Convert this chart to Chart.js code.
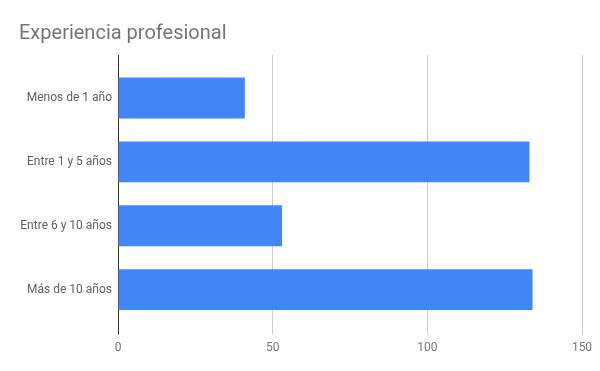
<!DOCTYPE html>
<html>
<head>
<meta charset="utf-8">
<script src="https://cdn.jsdelivr.net/npm/chart.js@4/dist/chart.umd.min.js"></script>
<style>
  html, body { margin: 0; padding: 0; background: #fff; }
  #wrap { width: 600px; height: 371px; }
</style>
</head>
<body>
<div id="wrap"><canvas id="grafico"></canvas></div>
<script>
// ===== Datos =====
const categorias = ['Menos de 1 año', 'Entre 1 y 5 años', 'Entre 6 y 10 años', 'Más de 10 años'];
const valores = [41, 133, 53, 134];
const ejeMin = 0;
const ejeMax = 150;
const ejePaso = 50;

const colorGrid = ctx => (ctx.tick && ctx.tick.value === 0 ? '#333333' : '#cccccc');

new Chart(document.getElementById('grafico').getContext('2d'), {
  type: 'bar',
  data: {
    labels: categorias,
    datasets: [{
      label: 'Experiencia profesional',
      data: valores,
      backgroundColor: '#4285f4',
      borderWidth: 0,
      categoryPercentage: 1,
      barPercentage: 0.64
    }]
  },
  options: {
    indexAxis: 'y',
    responsive: true,
    maintainAspectRatio: false,
    animation: false,
    layout: { padding: { left: 19, right: 18, top: 0, bottom: 10 } },
    plugins: {
      legend: { display: false },
      tooltip: { enabled: false },
      title: {
        display: true,
        text: 'Experiencia profesional',
        align: 'start',
        color: '#757575',
        font: { family: 'Roboto', size: 20, weight: 'normal' },
        padding: { top: 22, bottom: 9 }
      }
    },
    scales: {
      x: {
        position: 'bottom',
        min: ejeMin,
        max: ejeMax,
        border: { display: false },
        grid: { color: colorGrid, tickColor: colorGrid, tickLength: 13, lineWidth: 1 },
        ticks: {
          stepSize: ejePaso,
          padding: 6,
          color: '#757575',
          font: { family: 'Roboto', size: 12 }
        }
      },
      x2: {
        axis: 'x',
        type: 'linear',
        position: 'top',
        min: ejeMin,
        max: ejeMax,
        border: { display: false },
        grid: { drawOnChartArea: false, color: colorGrid, tickColor: colorGrid, tickLength: 11 },
        ticks: { display: false, stepSize: ejePaso }
      },
      y: {
        border: { display: false },
        grid: { display: false, drawTicks: false },
        afterFit: scale => { scale.width = 99; },
        ticks: {
          padding: 6,
          color: '#616161',
          font: { family: 'Roboto', size: 12 }
        }
      }
    }
  }
});
</script>
</body>
</html>
